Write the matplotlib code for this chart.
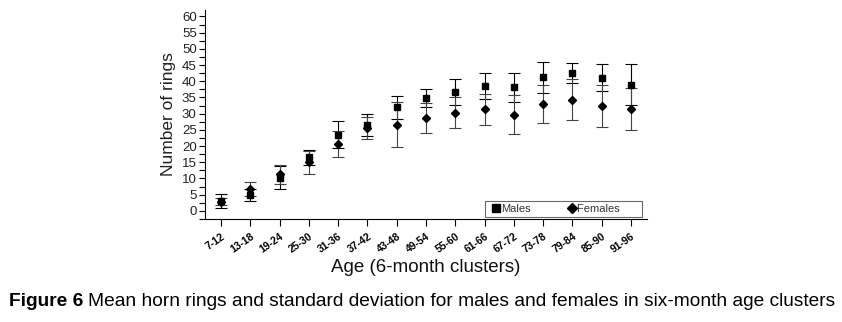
import matplotlib
matplotlib.use("Agg")
import matplotlib.pyplot as plt
from matplotlib.lines import Line2D
from matplotlib.ticker import MultipleLocator

plt.rcParams['font.family'] = ['Liberation Sans', 'DejaVu Sans']

age_groups = ['7-12', '13-18', '19-24', '25-30', '31-36', '37-42', '43-48', '49-54',
              '55-60', '61-66', '67-72', '73-78', '79-84', '85-90', '91-96']

males_mean = [3.0, 4.9, 10.3, 16.5, 23.5, 26.5, 32.0, 34.8, 36.7, 38.6, 38.1, 41.2, 42.5, 41.1, 39.0]
males_sd = [2.2, 1.8, 3.5, 2.3, 4.1, 3.3, 3.5, 2.7, 3.9, 4.0, 4.5, 4.7, 3.1, 4.2, 6.2]

females_mean = [2.9, 6.8, 11.3, 15.0, 20.6, 25.6, 26.6, 28.7, 30.3, 31.3, 29.7, 33.1, 34.3, 32.4, 31.4]
females_sd = [1.0, 2.1, 3.0, 3.6, 4.1, 3.5, 6.9, 4.7, 4.8, 4.9, 6.0, 5.9, 6.4, 6.6, 6.4]

W, H = 842, 322
fig = plt.figure(figsize=(W / 100, H / 100), dpi=100)
ax = fig.add_axes([205 / W, 1 - 219 / H, (647 - 205) / W, (219 - 10) / H])

x = list(range(len(age_groups)))

ax.errorbar(x, males_mean, yerr=males_sd, fmt='s', color='black', ms=5,
            ecolor='black', elinewidth=0.8, capsize=4.5, capthick=0.8)
ax.errorbar(x, females_mean, yerr=females_sd, fmt='D', color='black', ms=4.5,
            ecolor='#444444', elinewidth=0.8, capsize=4.5, capthick=0.8)

ax.set_xlim(-0.55, len(age_groups) - 0.45)
ax.set_ylim(-2.5, 62.0)

ax.yaxis.set_major_locator(MultipleLocator(5))
ax.yaxis.set_minor_locator(MultipleLocator(2.5))
ax.tick_params(axis='y', which='both', length=4, width=0.8, labelsize=9.5,
               labelcolor='#222222', pad=2)
ax.set_xticks(x)
ax.set_xticklabels(age_groups, rotation=35, ha='right', va='top',
                   rotation_mode='anchor', fontsize=7.5, fontweight='bold')
ax.tick_params(axis='x', length=5, width=0.8, pad=4)

for side in ['top', 'right']:
    ax.spines[side].set_visible(False)
for side in ['left', 'bottom']:
    ax.spines[side].set_linewidth(0.8)

ax.set_ylabel('Number of rings', fontsize=12.5, color='#222222', labelpad=4)
ax.set_xlabel('Age (6-month clusters)', fontsize=13.5, color='#111111', labelpad=3)

handles = [Line2D([], [], ls='none', marker='s', color='black', ms=5.5),
           Line2D([], [], ls='none', marker='D', color='black', ms=5)]
leg = ax.legend(handles, ['Males', 'Females      '], loc='lower left',
                bbox_to_anchor=(485 / W, 1 - 217 / H),
                bbox_transform=fig.transFigure, ncol=2, fontsize=8,
                frameon=True, fancybox=False, borderpad=0.25, handlelength=1.4,
                handletextpad=-0.2, columnspacing=3.0, borderaxespad=0, numpoints=1)
leg.get_frame().set_edgecolor('#444444')
leg.get_frame().set_linewidth(0.8)
for t in leg.get_texts():
    t.set_color('#333333')

cap1 = fig.text(9 / W, 1 - 301.5 / H, 'Figure 6', fontsize=13.8, fontweight='bold',
                va='center', ha='left')
fig.canvas.draw()
bb = cap1.get_window_extent(renderer=fig.canvas.get_renderer())
fig.text((bb.x1 + 5) / W, 1 - 301.5 / H,
         'Mean horn rings and standard deviation for males and females in six-month age clusters',
         fontsize=13.8, va='center', ha='left')

fig.savefig('out.png', dpi=100)
